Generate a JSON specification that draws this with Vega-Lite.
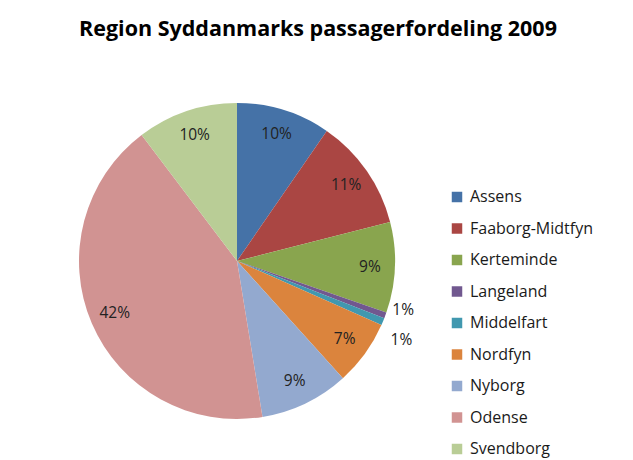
{
  "$schema": "https://vega.github.io/schema/vega-lite/v6.json",
  "width": 316,
  "height": 316,
  "autosize": {"type": "none"},
  "padding": {"left": 79, "top": 103, "right": 238, "bottom": 41},
  "background": "white",
  "title": {
    "text": "Region Syddanmarks  passagerfordeling 2009",
    "anchor": "middle",
    "frame": "group",
    "dx": 81,
    "offset": 33,
    "fontSize": 21.5,
    "font": "Open Sans",
    "fontWeight": "bold",
    "color": "#000000"
  },
  "data": {
    "values": [
      {"region": "Assens", "share": 0.096},
      {"region": "Faaborg-Midtfyn", "share": 0.114},
      {"region": "Kerteminde", "share": 0.0925},
      {"region": "Langeland", "share": 0.006},
      {"region": "Middelfart", "share": 0.0075},
      {"region": "Nordfyn", "share": 0.0665},
      {"region": "Nyborg", "share": 0.091},
      {"region": "Odense", "share": 0.422},
      {"region": "Svendborg", "share": 0.103}
    ]
  },
  "encoding": {
    "theta": {"field": "share", "type": "quantitative", "stack": true},
    "order": {"field": "region", "type": "ordinal", "sort": "ascending"}
  },
  "layer": [
    {
      "mark": {"type": "arc", "outerRadius": 158},
      "encoding": {
        "color": {
          "field": "region",
          "type": "nominal",
          "scale": {
            "domain": ["Assens", "Faaborg-Midtfyn", "Kerteminde", "Langeland", "Middelfart", "Nordfyn", "Nyborg", "Odense", "Svendborg"],
            "range": ["#4572A7", "#AA4643", "#89A54E", "#71588F", "#4198AF", "#DB843D", "#93A9CF", "#D19392", "#B9CD96"]
          },
          "legend": {
            "title": null,
            "orient": "none",
            "legendX": 370,
            "legendY": 86,
            "symbolType": "square",
            "symbolSize": 110,
            "symbolStrokeWidth": 0,
            "labelFont": "Open Sans",
            "labelFontSize": 16,
            "labelColor": "#1a1a1a",
            "labelOffset": 5,
            "rowPadding": 15.5,
            "padding": 0
          }
        }
      }
    },
    {
      "mark": {"type": "text", "radius": 133, "font": "Open Sans", "fontSize": 15.5, "color": "#222222"},
      "encoding": {
        "detail": {"field": "region", "type": "nominal"},
        "text": {"condition": {"test": "datum.share > 0.02", "field": "share", "type": "quantitative", "format": ".0%"}, "value": ""}
      }
    },
    {
      "mark": {"type": "text", "radius": 177, "dy": -12, "font": "Open Sans", "fontSize": 15.5, "color": "#222222"},
      "encoding": {
        "detail": {"field": "region", "type": "nominal"},
        "text": {"condition": {"test": "datum.region === 'Langeland'", "field": "share", "type": "quantitative", "format": ".0%"}, "value": ""}
      }
    },
    {
      "mark": {"type": "text", "radius": 178, "dy": 11, "font": "Open Sans", "fontSize": 15.5, "color": "#222222"},
      "encoding": {
        "detail": {"field": "region", "type": "nominal"},
        "text": {"condition": {"test": "datum.region === 'Middelfart'", "field": "share", "type": "quantitative", "format": ".0%"}, "value": ""}
      }
    }
  ],
  "config": {"view": {"stroke": null}}
}
